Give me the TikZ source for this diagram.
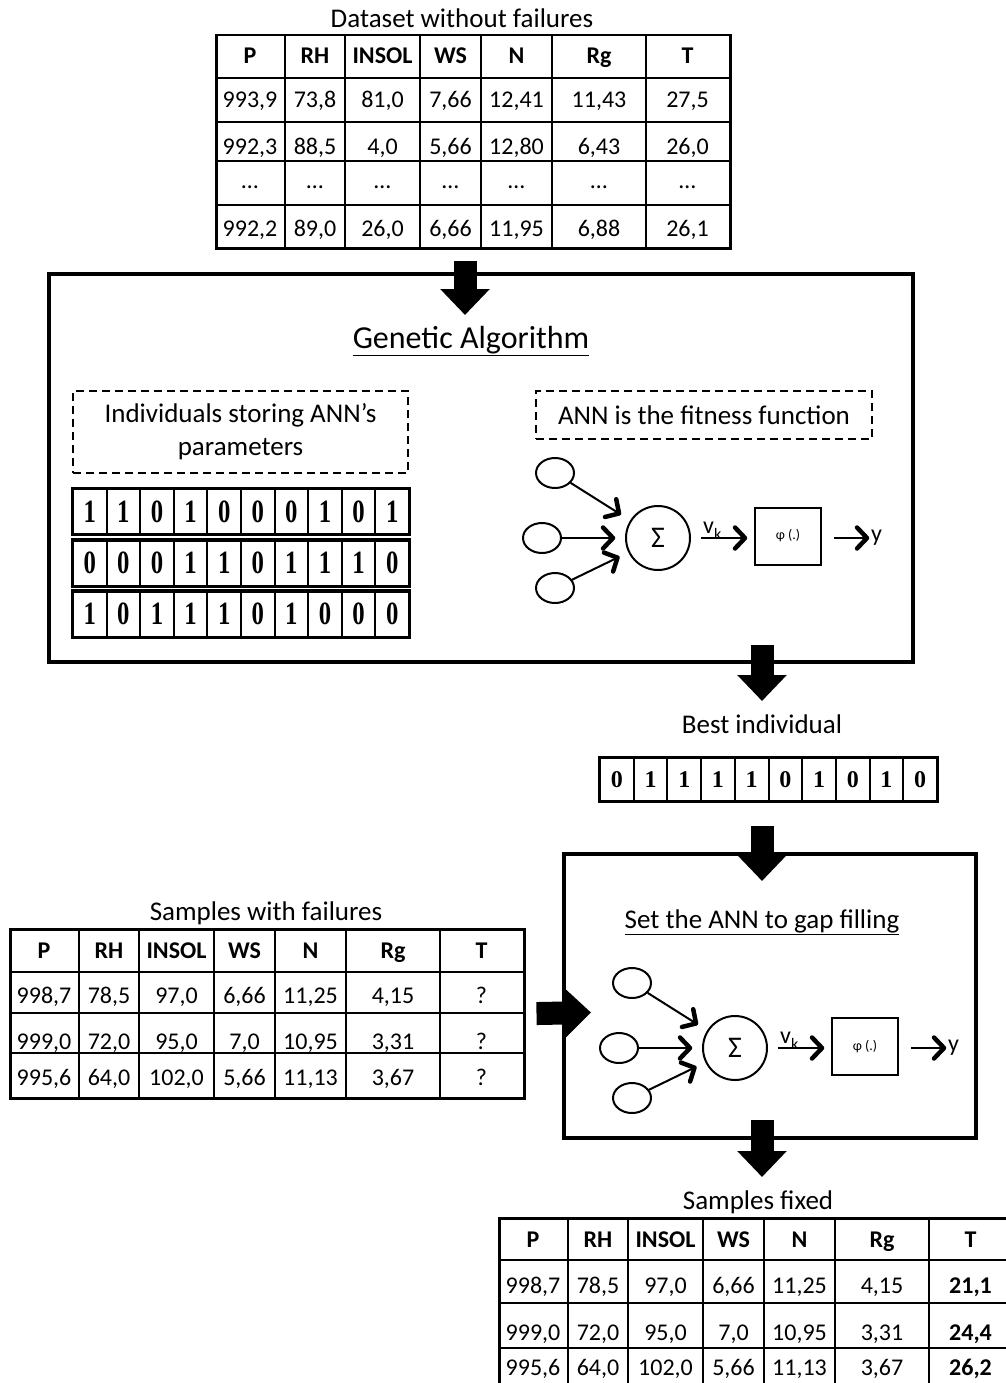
\documentclass[tikz,border=0pt]{standalone}
\usepackage{fontspec}
\setmainfont{Carlito}
\newfontfamily\bitfont{Liberation Serif}
\usetikzlibrary{arrows.meta,shapes.geometric,calc,decorations.markings}

% one row of a data table: style, name, baseline, entries
\newcommand{\tabrow}[4]{%
  \foreach \v [count=\i] in {#4} {
    \pgfmathsetmacro{\cx}{{35,100,167.5,235.5,301.5,384,472.5}[\i-1]}
    \node[#1] (#2-\i) at (\cx,#3) {\v};
  }}

\tikzset{
  tabframe/.style={draw,line width=2.5pt,inner sep=0pt,anchor=north west},
  tabline/.style={line width=2pt},
  cell/.style={anchor=base,inner sep=0pt,font=\fontsize{24}{28}\selectfont},
  headcell/.style={cell,font=\fontsize{24}{28}\selectfont\bfseries},
  tabtitle/.style={anchor=base,inner sep=0pt,font=\fontsize{27}{32}\selectfont},
  bigbox/.style={draw,line width=4pt,inner sep=0pt,anchor=north west},
  dashbox/.style={draw,line width=2.5pt,dash pattern=on 8pt off 5pt,inner sep=0pt,align=center,font=\fontsize{27}{33}\selectfont},
  bitcell/.style={draw,line width=2pt,minimum width=33.6pt,minimum height=45pt,inner sep=0pt,font=\bitfont\bfseries\fontsize{26}{30}\selectfont},
  fat/.style={line width=23pt,-{Triangle[length=26pt,width=48pt]}},
  wire/.style={line width=2pt,postaction={decorate},
    decoration={markings,mark=at position 1 with
      {\draw[line width=4.5pt,line cap=round,line join=round] (-10pt,10.5pt) -- (0,0) -- (-10pt,-10.5pt);}}},
  unitnode/.style={draw,ellipse,line width=2pt,minimum width=38pt,minimum height=30pt,inner sep=0pt},
  sumnode/.style={draw,circle,line width=2pt,minimum size=64pt,inner sep=0pt,font=\fontsize{30}{32}\selectfont},
  phibox/.style={draw,line width=2pt,minimum width=66pt,minimum height=57pt,inner sep=0pt,font=\fontsize{14}{16}\selectfont}
}

\begin{document}
\begin{tikzpicture}[x=1pt,y=-1pt]
  \useasboundingbox (0,0) rectangle (1005,1383);

  % dataset without failures
  \node[tabtitle] (dsetTitle) at (462,28) {Dataset without failures};
  \begin{scope}[shift={(215,34)}]
    \node[tabframe,minimum width=514pt,minimum height=213pt] (dset) at (0,0) {};
    \foreach \x in {70,130,205,266,337,431} \draw[tabline] (\x,0) -- (\x,213);
    \foreach \y in {44,88,127,171} \draw[tabline] (0,\y) -- (514,\y);
    \tabrow{headcell}{dsetH}{30}{P,RH,INSOL,WS,N,Rg,T}
    \tabrow{cell}{dsetA}{74}{{993,9},{73,8},{81,0},{7,66},{12,41},{11,43},{27,5}}
    \tabrow{cell}{dsetB}{121}{{992,3},{88,5},{4,0},{5,66},{12,80},{6,43},{26,0}}
    \tabrow{cell}{dsetC}{155}{…,…,…,…,…,…,…}
    \tabrow{cell}{dsetD}{202}{{992,2},{89,0},{26,0},{6,66},{11,95},{6,88},{26,1}}
  \end{scope}

  % genetic algorithm
  \node[bigbox,minimum width=864pt,minimum height=388pt] (ga) at (47,272) {};
  \node[tabtitle,font=\fontsize{32}{38}\selectfont] (gaTitle) at (471,348) {\underline{Genetic Algorithm}};
  \node[dashbox,minimum width=335pt,minimum height=82pt] (indBox) at (240.5,432) {Individuals storing ANN’s\\parameters};
  \node[dashbox,minimum width=336pt,minimum height=48pt] (fitBox) at (704,415) {ANN is the fitness function};
  \foreach \b [count=\i] in {1,1,0,1,0,0,0,1,0,1}
    \node[bitcell] (indA-\i) at (56.2+33.6*\i,511.5) {\scalebox{0.95}[1.25]{\b}};
  \foreach \b [count=\i] in {0,0,0,1,1,0,1,1,1,0}
    \node[bitcell] (indB-\i) at (56.2+33.6*\i,563) {\scalebox{0.95}[1.25]{\b}};
  \foreach \b [count=\i] in {1,0,1,1,1,0,1,0,0,0}
    \node[bitcell] (indC-\i) at (56.2+33.6*\i,614) {\scalebox{0.95}[1.25]{\b}};
  \foreach \r in {indA,indB,indC}
    \draw[line width=2.5pt] (\r-1.north west) rectangle (\r-10.south east);

  % neuron, drawn twice
  \foreach \nn/\dx/\dy in {ga/0/0,gf/77/510} {
    \begin{scope}[shift={(\dx,\dy)}]
      \node[unitnode] (\nn-i1) at (555,473) {};
      \node[unitnode] (\nn-i2) at (542,538) {};
      \node[unitnode] (\nn-i3) at (555,588) {};
      \node[sumnode] (\nn-sum) at (658,538) {Σ};
      \node[phibox] (\nn-phi) at (788,536) {φ (.)};
      \node[anchor=west,inner sep=1pt,font=\fontsize{24}{28}\selectfont] (\nn-y) at (870,538) {y};
      \node[anchor=base west,inner sep=0pt,font=\fontsize{24}{28}\selectfont] (\nn-vk) at (703,533)
        {v\raisebox{-6pt}{\fontsize{16}{16}\selectfont k}};
      \coordinate (\nn-t1) at ($(\nn-sum)!46pt!(\nn-i1)$);
      \coordinate (\nn-t2) at ($(\nn-sum)!45pt!(\nn-i2)$);
      \coordinate (\nn-t3) at ($(\nn-sum)!45pt!(\nn-i3)$);
      \coordinate (\nn-s4) at ([xshift=10pt]\nn-sum.east);
      \coordinate (\nn-t4) at ([xshift=-9pt]\nn-phi.west |- \nn-s4);
      \coordinate (\nn-s5) at ([xshift=12pt]\nn-phi.east |- \nn-y.west);
      \coordinate (\nn-t5) at ([xshift=-3pt]\nn-y.west);
      \draw[wire] (\nn-i1) -- (\nn-t1);
      \draw[wire] (\nn-i2) -- (\nn-t2);
      \draw[wire] (\nn-i3) -- (\nn-t3);
      \draw[wire] (\nn-s4) -- (\nn-t4);
      \draw[wire] (\nn-s5) -- (\nn-t5);
    \end{scope}
  }

  % best individual
  \node[tabtitle] (bestTitle) at (762,733) {Best individual};
  \foreach \b [count=\i] in {0,1,1,1,1,0,1,0,1,0}
    \node[bitcell,minimum width=33.7pt,minimum height=43pt,font=\bitfont\bfseries\fontsize{24}{28}\selectfont]
      (best-\i) at (583.15+33.7*\i,779.5) {\b};
  \draw[line width=2.5pt] (best-1.north west) rectangle (best-10.south east);

  % gap filling
  \node[bigbox,minimum width=412pt,minimum height=284pt] (gf) at (562,852) {};
  \node[tabtitle] (gfTitle) at (762,928) {\underline{Set the ANN to gap filling}};

  % samples with failures
  \node[tabtitle] (failTitle) at (266,920) {Samples with failures};
  \begin{scope}[shift={(9,928)}]
    \node[tabframe,minimum width=514pt,minimum height=169pt] (fail) at (0,0) {};
    \foreach \x in {70,130,205,266,337,431} \draw[tabline] (\x,0) -- (\x,169);
    \foreach \y in {44,85,125} \draw[tabline] (0,\y) -- (514,\y);
    \tabrow{headcell}{failH}{30}{P,RH,INSOL,WS,N,Rg,T}
    \tabrow{cell}{failA}{75}{{998,7},{78,5},{97,0},{6,66},{11,25},{4,15},?}
    \tabrow{cell}{failB}{121}{{999,0},{72,0},{95,0},{7,0},{10,95},{3,31},?}
    \tabrow{cell}{failC}{157}{{995,6},{64,0},{102,0},{5,66},{11,13},{3,67},?}
  \end{scope}

  % samples fixed
  \node[tabtitle] (fixTitle) at (758,1209) {Samples fixed};
  \begin{scope}[shift={(498,1217)}]
    \node[tabframe,minimum width=514pt,minimum height=173pt] (fixed) at (0,0) {};
    \foreach \x in {70,130,205,266,337,431} \draw[tabline] (\x,0) -- (\x,173);
    \foreach \y in {43,86,131} \draw[tabline] (0,\y) -- (514,\y);
    \tabrow{headcell}{fixH}{30}{P,RH,INSOL,WS,N,Rg,T}
    \tabrow{cell}{fixA}{76}{{998,7},{78,5},{97,0},{6,66},{11,25},{4,15},{\textbf{21,1}}}
    \tabrow{cell}{fixB}{123}{{999,0},{72,0},{95,0},{7,0},{10,95},{3,31},{\textbf{24,4}}}
    \tabrow{cell}{fixC}{158}{{995,6},{64,0},{102,0},{5,66},{11,13},{3,67},{\textbf{26,2}}}
  \end{scope}

  % block arrows
  \coordinate (gaIn) at (465,315);
  \coordinate (gaOut) at (762,645);
  \coordinate (bestIn) at (762,701);
  \coordinate (gfIn) at (762,881);
  \coordinate (gfSide) at (591,1012.5);
  \coordinate (gfOut) at (762,1120);
  \coordinate (fixIn) at (762,1177);
  \draw[fat,shorten <=11pt] (gaIn |- dset.south) -- (gaIn);
  \draw[fat] (gaOut) -- (bestIn);
  \draw[fat,shorten <=24pt] (gfIn |- best-5.south) -- (gfIn);
  \draw[fat,shorten <=11pt] (fail.east) -- (gfSide);
  \draw[fat] (gfOut) -- (fixIn);
\end{tikzpicture}
\end{document}
